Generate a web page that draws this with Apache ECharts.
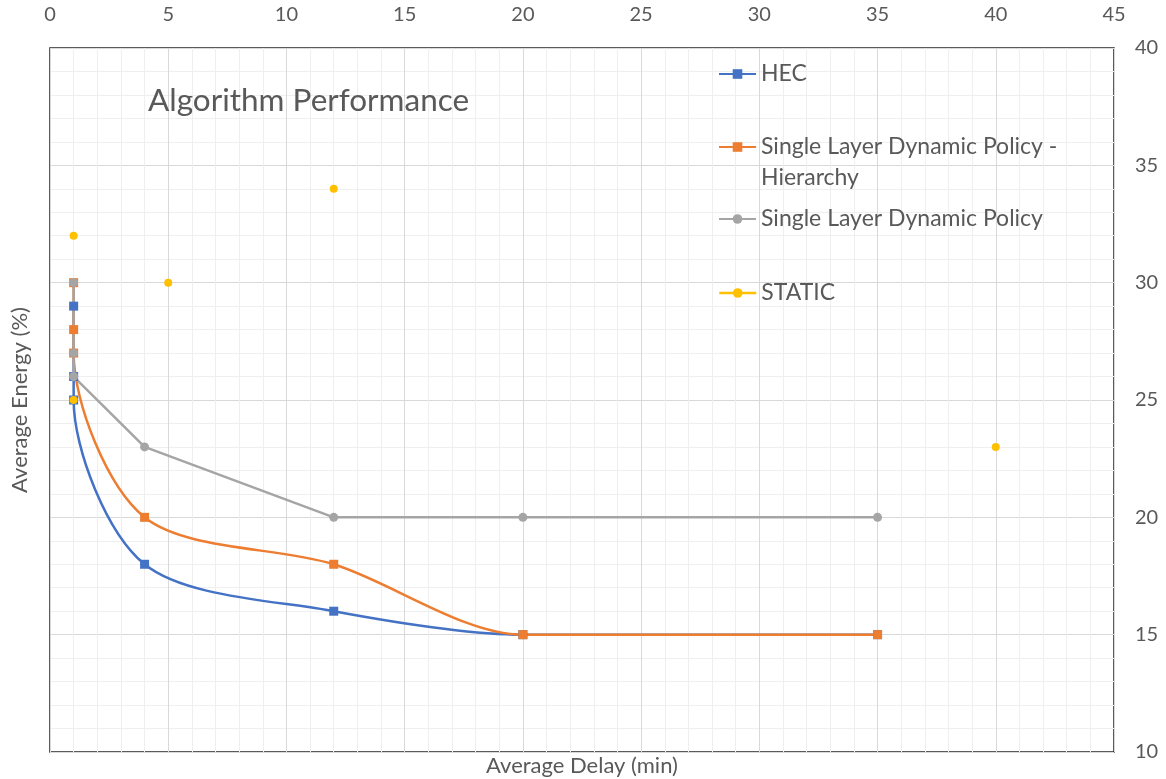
<!DOCTYPE html>
<html>
<head>
<meta charset="utf-8">
<script src="https://cdn.jsdelivr.net/npm/echarts@6/dist/echarts.min.js"></script>
<style>
html,body{margin:0;padding:0;background:#fff;}
#chart{width:1166px;height:779px;}
</style>
</head>
<body>
<div id="chart"></div>
<script>
// ---- data ----
const seriesNames = ['HEC', 'Single Layer Dynamic Policy - Hierarchy', 'Single Layer Dynamic Policy', 'STATIC'];
const hecData = [[1, 29], [1, 26], [1, 25], [4, 18], [12, 16], [20, 15], [35, 15]];
const hierData = [[1, 30], [1, 28], [1, 27], [4, 20], [12, 18], [20, 15], [35, 15]];
const sldpData = [[1, 30], [1, 27], [1, 26], [4, 23], [12, 20], [20, 20], [35, 20]];
const staticData = [[1, 32], [1, 25], [5, 30], [12, 34], [40, 23]];
const xTicks = [0, 45, 5];   // min, max, interval
const yTicks = [10, 40, 5];

const txt = '#595959';
const font = 'Lato';
const colors = ['#4472C4', '#ED7D31', '#A5A5A5', '#FFC000'];

const chart = echarts.init(document.getElementById('chart'));

function legendItem(i, top, extra, more) {
  return Object.assign({
    left: 713, top: top, orient: 'vertical',
    itemWidth: 37, itemHeight: 12,
    data: [Object.assign({ name: seriesNames[i] }, extra || {})],
    textStyle: { color: txt, fontFamily: font, fontSize: 23, lineHeight: 31 },
    selectedMode: false
  }, more || {});
}

chart.setOption({
  animation: false,
  backgroundColor: '#fff',
  title: {
    text: 'Algorithm Performance',
    left: 143, top: 80,
    textStyle: { color: txt, fontFamily: font, fontSize: 31.5, fontWeight: 'normal' }
  },
  legend: [
    legendItem(0, 53.5),
    legendItem(1, 95.5, null,
      { formatter: function () { return ' \nSingle Layer Dynamic Policy -\nHierarchy'; } }),
    legendItem(2, 198.5),
    legendItem(3, 272.5, { lineStyle: { width: 2.5, color: colors[3], opacity: 1, type: 'solid' } })
  ],
  grid: { left: 50, right: 52, top: 48, bottom: 27, outerBoundsMode: 'none', containLabel: false,
          show: true, borderColor: '#262626', borderWidth: 1.5, backgroundColor: 'transparent' },
  xAxis: [{
    type: 'value', position: 'top', min: xTicks[0], max: xTicks[1], interval: xTicks[2],
    axisLine: { show: false }, axisTick: { show: false },
    axisLabel: { color: txt, fontFamily: font, fontSize: 20, margin: 23 },
    splitLine: { show: true, lineStyle: { color: '#d9d9d9', width: 1 } },
    minorTick: { show: false, splitNumber: 5 },
    minorSplitLine: { show: true, lineStyle: { color: '#efefef', width: 1 } }
  }, {
    type: 'value', position: 'bottom', min: xTicks[0], max: xTicks[1], interval: xTicks[2],
    axisLine: { show: false }, axisTick: { show: false }, axisLabel: { show: false }, splitLine: { show: false },
    name: 'Average Delay (min)', nameLocation: 'middle', nameGap: 3,
    nameTextStyle: { color: txt, fontFamily: font, fontSize: 22 }
  }],
  yAxis: [{
    type: 'value', position: 'right', min: yTicks[0], max: yTicks[1], interval: yTicks[2],
    axisLine: { show: false }, axisTick: { show: false },
    axisLabel: { color: txt, fontFamily: font, fontSize: 20, margin: 21 },
    splitLine: { show: true, lineStyle: { color: '#d9d9d9', width: 1 } },
    minorTick: { show: false, splitNumber: 5 },
    minorSplitLine: { show: true, lineStyle: { color: '#efefef', width: 1 } }
  }, {
    type: 'value', position: 'left', min: yTicks[0], max: yTicks[1], interval: yTicks[2],
    axisLine: { show: false }, axisTick: { show: false }, axisLabel: { show: false }, splitLine: { show: false },
    name: 'Average Energy (%)', nameLocation: 'middle', nameGap: 19,
    nameTextStyle: { color: txt, fontFamily: font, fontSize: 22 }
  }],
  series: [{
    name: seriesNames[0], type: 'line', data: hecData, smooth: 0.3,
    symbol: 'rect', symbolSize: 9,
    lineStyle: { color: colors[0], width: 2.5 }, itemStyle: { color: colors[0] }
  }, {
    name: seriesNames[1], type: 'line', data: hierData, smooth: 0.3,
    symbol: 'rect', symbolSize: 9,
    lineStyle: { color: colors[1], width: 2.5 }, itemStyle: { color: colors[1] }
  }, {
    name: seriesNames[2], type: 'line', data: sldpData, smooth: false,
    symbol: 'circle', symbolSize: 9,
    lineStyle: { color: colors[2], width: 2.5 }, itemStyle: { color: colors[2] }
  }, {
    name: seriesNames[3], type: 'line', data: staticData, smooth: false,
    symbol: 'circle', symbolSize: 8,
    lineStyle: { color: colors[3], width: 2.5, opacity: 0 }, itemStyle: { color: colors[3] }
  }]
});
</script>
</body>
</html>
